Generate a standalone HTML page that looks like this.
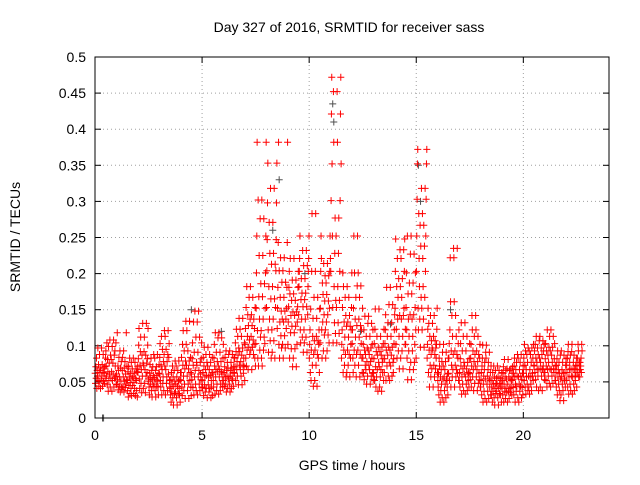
<!DOCTYPE html>
<html><head><meta charset="utf-8"><style>
body{margin:0;background:#fff;}
svg text{font-family:"Liberation Sans",sans-serif;font-size:14px;fill:#000;}
</style></head><body>
<svg id="chart" width="640" height="480" xmlns="http://www.w3.org/2000/svg">
<rect width="640" height="480" fill="#fff"/>
<text x="349" y="32" text-anchor="middle">Day 327 of 2016, SRMTID for receiver sass</text>
<text transform="translate(20,237) rotate(-90)" text-anchor="middle">SRMTID / TECUs</text>
<text x="352" y="470" text-anchor="middle">GPS time / hours</text>
<g id="grid"></g>
<g id="ticks"></g>
<g id="gray"></g>
<g id="red"></g>
<rect x="95" y="57" width="514" height="361" fill="none" stroke="#000" stroke-width="1"/>
</svg>
<script>
const xTicks=[0,5,10,15,20];
const yTicks=[0,0.05,0.1,0.15,0.2,0.25,0.3,0.35,0.4,0.45,0.5];
const yTickLabels=["0","0.05","0.1","0.15","0.2","0.25","0.3","0.35","0.4","0.45","0.5"];
const binStarts=[0,0.5,1,1.5,2,2.5,3,3.5,4,4.5,5,5.5,6,6.5,7,7.5,8,8.5,9,9.5,10,10.5,11,11.5,12,12.5,13,13.5,14,14.5,15,15.5,16,16.5,17,17.5,18,18.5,19,19.5,20,20.5,21,21.5,22,22.5];
const binWidth=0.5;
const redBins=[
[0.062,0.048,0.071,0.055,0.083,0.041,0.066,0.058,0.097,0.052,0.074,0.044,0.063,0.088,0.051,0.069],
[0.093,0.072,0.058,0.104,0.046,0.081,0.064,0.037,0.099,0.052,0.076,0.061,0.108,0.043,0.087,0.055],
[0.061,0.047,0.118,0.053,0.072,0.039,0.066,0.084,0.044,0.057,0.093,0.036,0.069,0.051,0.078,0.042],
[0.052,0.038,0.064,0.029,0.071,0.045,0.057,0.083,0.034,0.049,0.062,0.041,0.077,0.031,0.055,0.068],
[0.063,0.082,0.101,0.124,0.054,0.041,0.073,0.092,0.112,0.048,0.067,0.035,0.087,0.058,0.131,0.076],
[0.051,0.043,0.032,0.062,0.074,0.047,0.056,0.083,0.038,0.066,0.029,0.053,0.071,0.044,0.059,0.088],
[0.061,0.084,0.103,0.052,0.043,0.072,0.113,0.032,0.067,0.095,0.048,0.057,0.078,0.038,0.088,0.121],
[0.041,0.032,0.053,0.022,0.063,0.036,0.047,0.072,0.028,0.057,0.018,0.044,0.066,0.034,0.051,0.079],
[0.052,0.063,0.084,0.043,0.031,0.102,0.073,0.121,0.058,0.038,0.093,0.047,0.068,0.027,0.079,0.134],
[0.061,0.053,0.082,0.104,0.042,0.073,0.133,0.032,0.091,0.057,0.148,0.066,0.047,0.112,0.038,0.077],
[0.052,0.043,0.063,0.084,0.031,0.072,0.098,0.046,0.057,0.036,0.067,0.088,0.041,0.059,0.077,0.028],
[0.061,0.052,0.043,0.083,0.102,0.072,0.033,0.118,0.057,0.067,0.091,0.038,0.047,0.078,0.064,0.111],
[0.052,0.063,0.044,0.071,0.084,0.057,0.047,0.093,0.036,0.066,0.058,0.077,0.041,0.069,0.054,0.088],
[0.062,0.083,0.071,0.104,0.052,0.092,0.123,0.067,0.078,0.058,0.113,0.087,0.046,0.097,0.138,0.073],
[0.102,0.124,0.083,0.153,0.072,0.182,0.094,0.113,0.143,0.067,0.128,0.098,0.167,0.108,0.088,0.137],
[0.103,0.152,0.201,0.252,0.382,0.121,0.083,0.302,0.072,0.168,0.225,0.137,0.094,0.276,0.112,0.186],
[0.153,0.204,0.247,0.298,0.353,0.122,0.091,0.182,0.271,0.137,0.228,0.107,0.318,0.165,0.083,0.213],
[0.124,0.152,0.181,0.243,0.382,0.102,0.204,0.083,0.133,0.167,0.222,0.114,0.148,0.097,0.188,0.137],
[0.102,0.133,0.154,0.181,0.203,0.083,0.172,0.221,0.118,0.142,0.096,0.163,0.127,0.191,0.071,0.147],
[0.143,0.182,0.203,0.221,0.252,0.122,0.104,0.164,0.193,0.137,0.173,0.112,0.232,0.154,0.091,0.211],
[0.083,0.102,0.122,0.063,0.151,0.052,0.094,0.203,0.283,0.073,0.113,0.138,0.044,0.088,0.167,0.107],
[0.104,0.152,0.203,0.252,0.221,0.122,0.083,0.187,0.133,0.171,0.093,0.214,0.143,0.115,0.162,0.197],
[0.203,0.301,0.421,0.472,0.352,0.252,0.153,0.104,0.452,0.382,0.182,0.132,0.228,0.277,0.117,0.163],
[0.083,0.102,0.122,0.153,0.201,0.063,0.182,0.094,0.133,0.073,0.112,0.167,0.088,0.142,0.057,0.127],
[0.103,0.122,0.083,0.063,0.152,0.252,0.094,0.201,0.073,0.137,0.112,0.167,0.057,0.088,0.128,0.183],
[0.083,0.102,0.062,0.122,0.053,0.094,0.141,0.073,0.088,0.067,0.113,0.047,0.078,0.097,0.058,0.131],
[0.063,0.082,0.103,0.052,0.123,0.151,0.071,0.043,0.092,0.057,0.113,0.067,0.087,0.037,0.098,0.077],
[0.063,0.082,0.103,0.122,0.143,0.052,0.094,0.181,0.072,0.113,0.087,0.132,0.058,0.098,0.157,0.077],
[0.152,0.203,0.248,0.102,0.123,0.182,0.083,0.221,0.137,0.167,0.093,0.193,0.113,0.068,0.142,0.233],
[0.102,0.153,0.201,0.122,0.083,0.252,0.053,0.172,0.137,0.093,0.113,0.187,0.067,0.143,0.227,0.077],
[0.203,0.252,0.303,0.352,0.372,0.152,0.122,0.283,0.221,0.182,0.137,0.267,0.098,0.238,0.167,0.318],
[0.083,0.102,0.123,0.152,0.063,0.131,0.094,0.043,0.113,0.073,0.142,0.057,0.088,0.107,0.068,0.097],
[0.052,0.043,0.061,0.032,0.083,0.072,0.102,0.022,0.057,0.038,0.067,0.047,0.078,0.028,0.091,0.054],
[0.062,0.083,0.103,0.052,0.122,0.222,0.161,0.043,0.093,0.073,0.142,0.057,0.113,0.067,0.088,0.235],
[0.052,0.063,0.043,0.082,0.103,0.072,0.132,0.033,0.057,0.093,0.047,0.068,0.113,0.038,0.077,0.061],
[0.062,0.053,0.083,0.102,0.043,0.072,0.142,0.122,0.057,0.093,0.067,0.038,0.078,0.113,0.048,0.088],
[0.043,0.052,0.063,0.032,0.072,0.083,0.101,0.022,0.047,0.058,0.037,0.067,0.077,0.027,0.054,0.091],
[0.032,0.043,0.052,0.022,0.063,0.037,0.047,0.072,0.028,0.057,0.018,0.041,0.066,0.034,0.048,0.055],
[0.043,0.052,0.032,0.062,0.071,0.022,0.047,0.081,0.037,0.057,0.027,0.066,0.041,0.054,0.035,0.068],
[0.053,0.042,0.062,0.032,0.072,0.083,0.057,0.022,0.047,0.067,0.037,0.077,0.044,0.058,0.088,0.028],
[0.062,0.083,0.052,0.102,0.073,0.043,0.093,0.033,0.067,0.057,0.088,0.047,0.077,0.038,0.097,0.058],
[0.072,0.093,0.063,0.102,0.053,0.083,0.113,0.043,0.077,0.067,0.097,0.058,0.088,0.038,0.068,0.107],
[0.063,0.082,0.103,0.052,0.072,0.093,0.043,0.122,0.067,0.087,0.058,0.077,0.098,0.048,0.113,0.068],
[0.052,0.063,0.043,0.073,0.082,0.032,0.093,0.057,0.067,0.047,0.077,0.038,0.062,0.024,0.087,0.054],
[0.052,0.073,0.063,0.083,0.043,0.092,0.102,0.033,0.057,0.067,0.077,0.047,0.087,0.038,0.068,0.058],
[0.072,0.083,0.063,0.102,0.093,0.057,0.077,0.067]
];
const grayTimes=[0.35,0.4,8.3,8.6,11.1,11.15,15.1,15.2,5.9,4.5,12.4,16.6,13.8,9.8];
const grayValues=[0.0,0.0,0.26,0.33,0.435,0.41,0.35,0.3,0.12,0.15,0.12,0.15,0.13,0.2];

const NS="http://www.w3.org/2000/svg";
const X0=95,X1=609,Y0=418,Y1=57,XMAX=24,YMAX=0.5;
const PASSES=2;
function sx(v){return X0+v/XMAX*(X1-X0);}
function sy(v){return Y0-v/YMAX*(Y0-Y1);}
const grid=document.getElementById('grid'),ticks=document.getElementById('ticks');
function line(g,x1,y1,x2,y2,st,da){const l=document.createElementNS(NS,'line');l.setAttribute('x1',x1);l.setAttribute('y1',y1);l.setAttribute('x2',x2);l.setAttribute('y2',y2);l.setAttribute('stroke',st);if(da)l.setAttribute('stroke-dasharray',da);g.appendChild(l);return l;}
function txt(g,x,y,s,anc){const t=document.createElementNS(NS,'text');t.setAttribute('x',x);t.setAttribute('y',y);t.setAttribute('text-anchor',anc);t.textContent=s;g.appendChild(t);return t;}
xTicks.forEach(v=>{const x=sx(v);
 if(v>0){const gl=line(grid,x,Y0,x,Y1,'#a0a0a0','1,3');}
 line(ticks,x,Y0,x,Y0-6,'#000');line(ticks,x,Y1,x,Y1+6,'#000');
 const t=txt(ticks,x,Y0+22,String(v),'middle');
 
 
});
yTicks.forEach((v,i)=>{const y=sy(v);
 if(v>0&&v<YMAX){const gl=line(grid,X0,y,X1,y,'#a0a0a0','1,3');}
 line(ticks,X0,y,X0+6,y,'#000');line(ticks,X1,y,X1-6,y,'#000');
 const t=txt(ticks,X0-9,y+5,yTickLabels[i],'end');
 
 
});
function plus(g,t,v,col){const x=sx(t),y=sy(v);const p=document.createElementNS(NS,'path');
 p.setAttribute('d',`M${x-3.5},${y}H${x+3.5}M${x},${y-3.5}V${y+3.5}`);p.setAttribute('stroke',col);p.setAttribute('stroke-width','1');
 
 
 g.appendChild(p);}
const gG=document.getElementById('gray'),gR=document.getElementById('red');
grayTimes.forEach((t,i)=>plus(gG,t,grayValues[i],'#505050'));
binStarts.forEach((b,bi)=>{const vals=redBins[bi];const n=vals.length;const w=(bi===binStarts.length-1)?0.25:binWidth;
 const slots=n*PASSES;
 for(let p=0;p<PASSES;p++){
  for(let i=0;i<n;i++){
   const v=vals[(i+p*5)%n];
   plus(gR,b+(p*n+i+0.5)/slots*w,v,'#ff0000');
  }
 }});
</script>
</body></html>
